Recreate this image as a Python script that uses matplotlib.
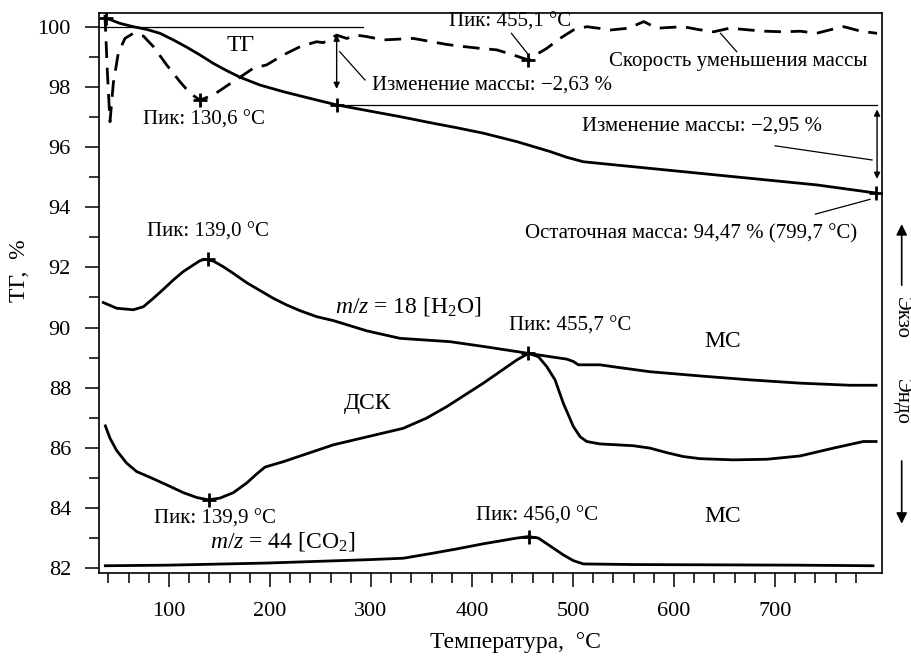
import matplotlib
matplotlib.use("Agg")
import matplotlib.pyplot as plt
from matplotlib.ticker import MultipleLocator

plt.rcParams['font.family'] = ['Liberation Serif', 'DejaVu Serif']
plt.rcParams['mathtext.fontset'] = 'custom'
plt.rcParams['mathtext.rm'] = 'Liberation Serif'
plt.rcParams['mathtext.it'] = 'Liberation Serif:italic'

# ---- data ----
tg_T = [37, 38.3, 51.5, 64.7, 77.9, 91.1, 104.3, 117.5, 130.7, 143.9, 157.1, 170.3, 190.1, 213.2, 242.9, 266,
        298, 328.7, 360, 385, 411.2, 444.3, 477.2, 493.7, 510.2, 543.2, 609.2, 675.2, 741.3, 800]
tg_v = [100.3, 100.28, 100.11, 100.0, 99.91, 99.78, 99.56, 99.32, 99.06, 98.78, 98.54, 98.32, 98.06, 97.84, 97.59, 97.4,
        97.2, 97.01, 96.8, 96.64, 96.46, 96.18, 95.85, 95.66, 95.51, 95.4, 95.18, 94.96, 94.74, 94.47]

dtg_T = [36.6, 39, 41.6, 44.9, 49.8, 56.4, 64.7, 74.6, 84.5, 97.7, 110.9, 120.8, 130.6, 143.9, 157.1, 170.3, 183.5,
         196.7, 213.2, 230, 246, 252.8, 266, 276, 285.8, 296, 312.2, 341.9, 374.9, 391.4, 407.9, 424.5, 440.9, 455.1,
         474, 487.1, 500.3, 513.6, 525, 537, 555, 570, 583, 609, 625, 639, 655, 675, 690, 708, 725, 741, 755, 768,
         785, 801]
dtg_v = [100.39, 98.5, 96.84, 98.12, 99.12, 99.61, 99.78, 99.69, 99.34, 98.73, 98.17, 97.79, 97.56, 97.73, 98.03,
         98.32, 98.62, 98.73, 99.06, 99.34, 99.5, 99.47, 99.72, 99.61, 99.72, 99.67, 99.56, 99.61, 99.41, 99.34,
         99.28, 99.23, 99.06, 98.9, 99.28, 99.61, 99.89, 100.0, 99.95, 99.89, 99.95, 100.17, 99.95, 100.0, 99.9,
         99.83, 99.95, 99.89, 99.85, 99.83, 99.85, 99.78, 99.9, 100.0, 99.85, 99.78]

h2o_T = [35.0, 48.2, 64.7, 74.6, 84.5, 94.4, 104.3, 114.2, 124.1, 130.7, 135.6, 143.9, 153.8, 163.7, 176.9, 190.1,
         203.3, 216.5, 229.7, 246.2, 262.7, 295.7, 328.7, 378, 411.2, 444.3, 455.8, 477.2, 493.7, 500.3, 505.3,
         526.7, 543.2, 576.2, 625.7, 675.2, 724.8, 774.3, 800]
h2o_v = [90.83, 90.64, 90.59, 90.69, 90.97, 91.27, 91.58, 91.86, 92.08, 92.22, 92.27, 92.21, 92.02, 91.8, 91.49,
         91.23, 90.97, 90.75, 90.56, 90.36, 90.23, 89.89, 89.64, 89.53, 89.37, 89.2, 89.14, 89.03, 88.95, 88.87,
         88.76, 88.76, 88.68, 88.53, 88.39, 88.26, 88.15, 88.08, 88.08]

dsc_T = [37.0, 41.6, 48.2, 58.1, 68, 81.2, 97.7, 114.2, 127.4, 138.9, 150.5, 163.7, 176.9, 186.8, 195, 213.2, 262.7,
         332, 355.1, 375, 411.2, 444.3, 455.8, 465.7, 474, 482.2, 490.4, 500.3, 507, 513.6, 526.7, 559.7, 576.2,
         592.8, 609.2, 625.7, 658.7, 691.8, 724.8, 757.7, 787.4, 800]
dsc_v = [86.73, 86.32, 85.91, 85.49, 85.21, 85.02, 84.77, 84.51, 84.35, 84.27, 84.33, 84.51, 84.83, 85.13, 85.36,
         85.54, 86.1, 86.65, 86.99, 87.37, 88.15, 88.92, 89.14, 89.03, 88.7, 88.26, 87.48, 86.71, 86.37, 86.21,
         86.13, 86.07, 85.99, 85.84, 85.71, 85.64, 85.6, 85.62, 85.73, 85.99, 86.21, 86.21]

co2_T = [37, 100, 197, 295.7, 332, 361.7, 385, 411.2, 444.3, 455.8, 465.7, 477.2, 490.4, 500.3, 510.2, 560, 642,
         720, 797]
co2_v = [82.08, 82.1, 82.17, 82.28, 82.33, 82.5, 82.64, 82.81, 83.0, 83.05, 83.0, 82.74, 82.44, 82.25, 82.14,
         82.12, 82.11, 82.1, 82.08]

mark_T = [38, 130.6, 455.1, 266, 799.7, 139.0, 139.9, 455.7, 456.0]
mark_v = [100.28, 97.56, 98.9, 97.4, 94.47, 92.27, 84.27, 89.14, 83.05]

y_ticks = [82, 84, 86, 88, 90, 92, 94, 96, 98, 100]
x_ticks = [100, 200, 300, 400, 500, 600, 700]

# ---- figure ----
fig = plt.figure(figsize=(9.12, 6.57), dpi=100)
ax = fig.add_axes([0.1082, 0.1279, 0.8586, 0.8523])

lw = 2.0
ax.plot(tg_T, tg_v, color='black', lw=lw, solid_joinstyle='round')
ax.plot(dtg_T, dtg_v, color='black', lw=lw, dashes=(6, 3.5), dash_joinstyle='round')
ax.plot(h2o_T, h2o_v, color='black', lw=lw, solid_joinstyle='round')
ax.plot(dsc_T, dsc_v, color='black', lw=lw, solid_joinstyle='round')
ax.plot(co2_T, co2_v, color='black', lw=lw, solid_joinstyle='round')
ax.plot(mark_T, mark_v, ls='none', marker='+', ms=10, mew=2, color='black')

ax.set_xlim(30.4, 805.6)
ax.set_ylim(81.84, 100.455)

ax.set_xticks(x_ticks)
ax.set_yticks(y_ticks)
ax.yaxis.set_minor_locator(MultipleLocator(1))
ax.set_xticks([t for t in range(40, 800, 20) if t % 100 != 0], minor=True)
ax.tick_params(which='major', direction='out', length=10, width=1.1, labelsize=16)
ax.tick_params(axis='x', which='major', pad=11)
ax.tick_params(axis='y', which='major', pad=10)
ax.tick_params(which='minor', direction='out', length=7, width=1.1)
for s in ax.spines.values():
    s.set_linewidth(1.2)

ax.set_ylabel('ТГ,  %', fontsize=17)
ax.yaxis.set_label_coords(-0.0877, 0.54)
ax.set_xlabel('Температура,  °C', fontsize=17)
ax.xaxis.set_label_coords(0.532, -0.106)

fs = 15
tl = 0.9
# reference lines
ax.plot([30.4, 292], [100, 100], color='black', lw=tl)
ax.plot([266, 801], [97.4, 97.4], color='black', lw=tl)
# double arrows
ax.annotate('', xy=(266, 99.83), xytext=(266, 97.84),
            arrowprops=dict(arrowstyle='<|-|>', color='black', lw=1.0, mutation_scale=9))
ax.annotate('', xy=(801, 97.34), xytext=(801, 94.85),
            arrowprops=dict(arrowstyle='<|-|>', color='black', lw=1.0, mutation_scale=9))
# leader lines
ax.plot([269, 294], [99.17, 98.23], color='black', lw=tl)
ax.plot([700, 796], [96.04, 95.57], color='black', lw=tl)
ax.plot([794, 740], [94.26, 93.77], color='black', lw=tl)
ax.plot([439, 456], [99.78, 99.06], color='black', lw=tl)
ax.plot([646, 662], [99.78, 99.17], color='black', lw=tl)

# texts
ax.text(171, 99.39, 'ТГ', fontsize=17, ha='center', va='center')
ax.text(135, 96.9, 'Пик: 130,6 °C', fontsize=fs, ha='center', va='center')
ax.text(438, 100.17, 'Пик: 455,1 °C', fontsize=fs, ha='center', va='center')
ax.text(301, 98.05, 'Изменение массы: −2,63 %', fontsize=fs, ha='left', va='center')
ax.text(791, 98.84, 'Скорость уменьшения массы', fontsize=fs, ha='right', va='center')
ax.text(746, 96.7, 'Изменение массы: −2,95 %', fontsize=fs, ha='right', va='center')
ax.text(781, 93.13, 'Остаточная масса: 94,47 % (799,7 °C)', fontsize=fs, ha='right', va='center')
ax.text(139, 93.19, 'Пик: 139,0 °C', fontsize=fs, ha='center', va='center')
ax.text(264, 90.7, r'$m/z$ = 18 [H$_2$O]', fontsize=17, ha='left', va='center')
ax.text(497, 90.05, 'Пик: 455,7 °C', fontsize=fs, ha='center', va='center')
ax.text(648, 89.53, 'МС', fontsize=17, ha='center', va='center')
ax.text(297, 87.48, 'ДСК', fontsize=17, ha='center', va='center')
ax.text(145, 83.63, 'Пик: 139,9 °C', fontsize=fs, ha='center', va='center')
ax.text(141, 82.89, r'$m/z$ = 44 [CO$_2$]', fontsize=17, ha='left', va='center')
ax.text(464, 83.72, 'Пик: 456,0 °C', fontsize=fs, ha='center', va='center')
ax.text(648, 83.72, 'МС', fontsize=17, ha='center', va='center')

# Exo / Endo outside the frame
ax.annotate('', xy=(1.0255, 0.628), xytext=(1.0255, 0.509), xycoords='axes fraction',
            arrowprops=dict(arrowstyle='-|>', color='black', lw=1.2, mutation_scale=16))
ax.annotate('', xy=(1.0255, 0.083), xytext=(1.0255, 0.205), xycoords='axes fraction',
            arrowprops=dict(arrowstyle='-|>', color='black', lw=1.2, mutation_scale=16))
ax.text(1.0255, 0.455, 'Экзо', transform=ax.transAxes, rotation=270, fontsize=15,
        ha='center', va='center')
ax.text(1.0255, 0.306, 'Эндо', transform=ax.transAxes, rotation=270, fontsize=15,
        ha='center', va='center')

fig.savefig('out.png', dpi=100)
